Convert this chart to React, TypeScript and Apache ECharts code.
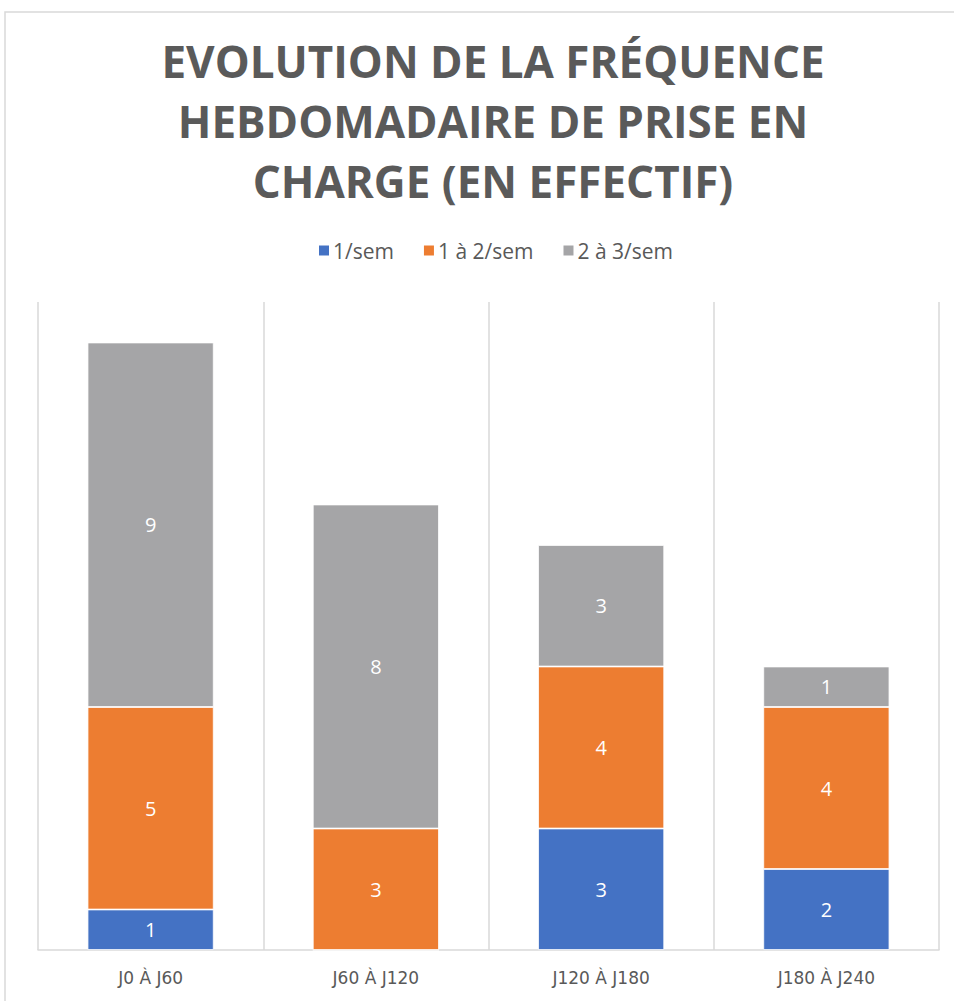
import React, { useEffect, useRef } from "react";
import * as echarts from "echarts";

const categories = ["J0 À J60", "J60 À J120", "J120 À J180", "J180 À J240"];
const seriesNames = ["1/sem", "1 à 2/sem", "2 à 3/sem"];
const perWeek1 = [1, 0, 3, 2];
const perWeek1to2 = [5, 3, 4, 4];
const perWeek2to3 = [9, 8, 3, 1];
const colors = ["#4472C4", "#ED7D31", "#A5A5A7"];
const titleText = "EVOLUTION DE LA FRÉQUENCE\nHEBDOMADAIRE DE PRISE EN\nCHARGE (EN EFFECTIF)";

export default function App() {
  const ref = useRef<HTMLDivElement>(null);
  useEffect(() => {
    document.body.style.margin = "0";
    const chart = echarts.init(ref.current!, null, { renderer: "svg" });
    const font = "'Open Sans', sans-serif";
    const values = [perWeek1, perWeek1to2, perWeek2to3];
    chart.setOption({
      animation: false,
      backgroundColor: "#ffffff",
      color: colors,
      title: {
        text: titleText,
        left: 488,
        textAlign: "center",
        top: 26,
        textStyle: {
          fontFamily: font,
          fontWeight: "bold",
          fontSize: 44,
          lineHeight: 60,
          color: "#5a5a5a",
        },
      },
      legend: {
        top: 235,
        left: 312,
        itemWidth: 12,
        itemHeight: 12,
        itemGap: 28,
        icon: "rect",
        data: seriesNames,
        textStyle: { fontFamily: font, fontSize: 21, color: "#595959", padding: [0, 0, 0, -2] },
      },
      graphic: [
        {
          type: "rect",
          shape: { x: 5, y: 12, width: 1000, height: 1100 },
          style: { fill: "none", stroke: "#d9d9d9", lineWidth: 1.5 },
          silent: true,
        },
      ],
      grid: { left: 38, right: 15, top: 302, bottom: 51 },
      xAxis: {
        type: "category",
        data: categories,
        axisLine: { lineStyle: { color: "#d9d9d9", width: 1.5 } },
        axisTick: { show: false },
        splitLine: { show: true, lineStyle: { color: "#d9d9d9", width: 1.5 } },
        axisLabel: { fontFamily: "'DejaVu Sans', sans-serif", fontSize: 17, color: "#595959", margin: 19 },
      },
      yAxis: {
        type: "value",
        min: 0,
        max: 16,
        show: false,
        splitLine: { show: false },
      },
      series: seriesNames.map((name, i) => ({
        name,
        type: "bar",
        stack: "total",
        barWidth: "56%",
        data: values[i],
        itemStyle: { color: colors[i], borderColor: "#ffffff", borderWidth: 0.8 },
        label: {
          show: true,
          position: "inside",
          color: "#ffffff",
          fontFamily: font,
          fontSize: 20,
          formatter: (p: any) => (p.value ? String(p.value) : ""),
        },
      })),
    });
    return () => chart.dispose();
  }, []);
  return <div ref={ref} style={{ width: 954, height: 1001 }} />;
}
